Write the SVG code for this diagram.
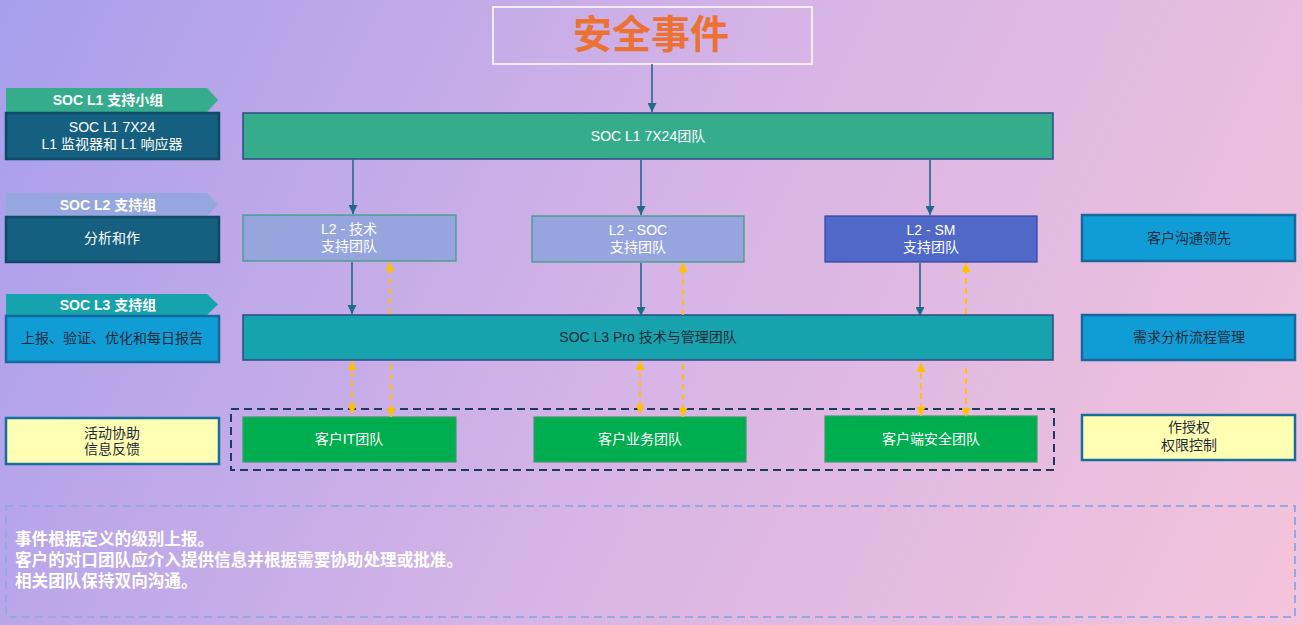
<svg xmlns="http://www.w3.org/2000/svg" width="1303" height="625" viewBox="0 0 1303 625">
  <defs>
    <linearGradient id="bg" gradientUnits="userSpaceOnUse" x1="0" y1="0" x2="1303" y2="625">
      <stop offset="0" stop-color="#a89eec"/>
      <stop offset="0.5" stop-color="#d6b4e6"/>
      <stop offset="1" stop-color="#f4c4da"/>
    </linearGradient>
    <marker id="ah" markerUnits="userSpaceOnUse" markerWidth="9" markerHeight="9" refX="9" refY="4.5" orient="auto-start-reverse">
      <path d="M0,0 L9,4.5 L0,9 z" fill="#1f6a8a"/>
    </marker>
    <marker id="ay" markerUnits="userSpaceOnUse" markerWidth="9" markerHeight="9" refX="9" refY="4.5" orient="auto-start-reverse">
      <path d="M0,0 L9,4.5 L0,9 z" fill="#ffc000"/>
    </marker>
  </defs>
  <style>
    text { font-family: "Liberation Sans", "Noto Sans CJK SC", sans-serif; font-size: 14px; text-anchor: middle; }
    .w { fill: #ffffff; }
    .d { fill: #1e2a3a; }
    .b { font-weight: bold; }
    .title { font-size: 39px; font-weight: bold; fill: #ec7234; }
    .note { font-size: 16.6px; font-weight: 600; fill: #ffffff; text-anchor: start; }
    .conn { stroke: #24688a; stroke-width: 1.6; fill: none; marker-end: url(#ah); }
    .yel { stroke: #ffc000; stroke-width: 1.8; fill: none; stroke-dasharray: 6 4; }
    .dark { fill: #155f80; stroke: #0d4a66; stroke-width: 2.5; }
    .blue { fill: #109dd6; stroke: #15699c; stroke-width: 2.5; }
    .ylw { fill: #ffffb3; stroke: #146f9e; stroke-width: 2.5; }
    .bar { stroke: #2e4a85; stroke-width: 1.5; }
    .l2 { fill: #97a5df; stroke: #3b9a7a; stroke-width: 1.2; }
    .cust { fill: #00ae4f; stroke: #3c9a70; stroke-width: 1.2; }
  </style>
  <rect x="0" y="0" width="1303" height="625" fill="url(#bg)"/>

  <g id="title">
    <rect x="493" y="7" width="319" height="57" fill="none" stroke="#ffffff" stroke-width="1.5"/>
    <text x="651" y="48" class="title">安全事件</text>
  </g>

  <g id="l1-banner">
    <polygon points="6,88 207,88 218,100 207,112 6,112" fill="#35ad8c"/>
    <text x="108" y="105" class="w b">SOC L1 支持小组</text>
  </g>
  <g id="l1-desc">
    <rect x="6" y="113" width="213" height="46" class="dark"/>
    <text x="112" y="132" class="w">SOC L1 7X24</text>
    <text x="112" y="149" class="w">L1 监视器和 L1 响应器</text>
  </g>
  <g id="l2-banner">
    <polygon points="6,193 207,193 218,204.5 207,216 6,216" fill="#96a6df"/>
    <text x="108" y="209.5" class="w b">SOC L2 支持组</text>
  </g>
  <g id="l2-desc">
    <rect x="6" y="217" width="213" height="45" class="dark"/>
    <text x="112" y="243" class="w">分析和作</text>
  </g>
  <g id="l3-banner">
    <polygon points="6,294 207,294 218,304.5 207,315 6,315" fill="#16a3ad"/>
    <text x="108" y="310" class="w b">SOC L3 支持组</text>
  </g>
  <g id="l3-desc">
    <rect x="6" y="316" width="213" height="46" class="blue"/>
    <text x="112" y="343" class="d">上报、验证、优化和每日报告</text>
  </g>
  <g id="assist">
    <rect x="6" y="418" width="213" height="46" class="ylw"/>
    <text x="112" y="438" class="d">活动协助</text>
    <text x="112" y="454" class="d">信息反馈</text>
  </g>

  <g id="l1-team">
    <rect x="243" y="113" width="810" height="46" fill="#35ad8c" class="bar"/>
    <text x="648" y="141" class="w">SOC L1 7X24团队</text>
  </g>
  <g id="l2-tech">
    <rect x="243" y="215" width="213" height="46" class="l2"/>
    <text x="349" y="234" class="w">L2 - 技术</text>
    <text x="349" y="251" class="w">支持团队</text>
  </g>
  <g id="l2-soc">
    <rect x="532" y="216" width="212" height="46" class="l2"/>
    <text x="638" y="235" class="w">L2 - SOC</text>
    <text x="638" y="252" class="w">支持团队</text>
  </g>
  <g id="l2-sm">
    <rect x="825" y="216" width="212" height="46" fill="#5068c8" stroke="#2f43a0" stroke-width="1.2"/>
    <text x="931" y="235" class="w">L2 - SM</text>
    <text x="931" y="252" class="w">支持团队</text>
  </g>
  <g id="l3-team">
    <rect x="243" y="315" width="810" height="45" fill="#16a3ad" class="bar"/>
    <text x="648" y="342" class="d">SOC L3 Pro 技术与管理团队</text>
  </g>

  <g id="customer-group">
    <rect x="231" y="409" width="823" height="61" fill="none" stroke="#1b3c5c" stroke-width="2" stroke-dasharray="8 5"/>
  </g>
  <g id="cust-it">
    <rect x="243" y="417" width="213" height="45" class="cust"/>
    <text x="349" y="444" class="w">客户IT团队</text>
  </g>
  <g id="cust-biz">
    <rect x="534" y="417" width="212" height="45" class="cust"/>
    <text x="640" y="444" class="w">客户业务团队</text>
  </g>
  <g id="cust-sec">
    <rect x="825" y="416" width="212" height="46" class="cust"/>
    <text x="931" y="444" class="w">客户端安全团队</text>
  </g>

  <g id="comm-lead">
    <rect x="1082" y="215" width="213" height="46" class="blue"/>
    <text x="1189" y="243" class="d">客户沟通领先</text>
  </g>
  <g id="req-mgmt">
    <rect x="1082" y="315" width="213" height="45" class="blue"/>
    <text x="1189" y="342" class="d">需求分析流程管理</text>
  </g>
  <g id="auth">
    <rect x="1082" y="415" width="213" height="45" class="ylw"/>
    <text x="1189" y="432" class="d">作授权</text>
    <text x="1189" y="450" class="d">权限控制</text>
  </g>

  <g id="notes">
    <rect x="6" y="506" width="1289" height="111" fill="none" stroke="#98a6e2" stroke-width="2" stroke-dasharray="8 5"/>
    <text x="15" y="545" class="note">事件根据定义的级别上报。</text>
    <text x="15" y="566" class="note">客户的对口团队应介入提供信息并根据需要协助处理或批准。</text>
    <text x="15" y="587" class="note">相关团队保持双向沟通。</text>
  </g>

  <g id="connectors">
    <line x1="652" y1="64" x2="652" y2="112" class="conn"/>
    <line x1="353" y1="159" x2="353" y2="214" class="conn"/>
    <line x1="641" y1="160" x2="641" y2="215" class="conn"/>
    <line x1="930" y1="160" x2="930" y2="215" class="conn"/>
    <line x1="352" y1="262" x2="352" y2="314" class="conn"/>
    <line x1="641" y1="263" x2="641" y2="316" class="conn"/>
    <line x1="920" y1="263" x2="920" y2="316" class="conn"/>

    <line x1="390" y1="314" x2="390" y2="262" class="yel" marker-end="url(#ay)"/>
    <line x1="683" y1="315" x2="683" y2="263" class="yel" marker-end="url(#ay)"/>
    <line x1="966" y1="314" x2="966" y2="263" class="yel" marker-end="url(#ay)"/>

    <line x1="352" y1="361" x2="352" y2="414" class="yel" marker-start="url(#ay)" marker-end="url(#ay)"/>
    <line x1="391" y1="364" x2="391" y2="417" class="yel" marker-end="url(#ay)"/>
    <line x1="640" y1="361" x2="640" y2="414" class="yel" marker-start="url(#ay)" marker-end="url(#ay)"/>
    <line x1="683" y1="364" x2="683" y2="417" class="yel" marker-end="url(#ay)"/>
    <line x1="921" y1="363" x2="921" y2="416" class="yel" marker-start="url(#ay)" marker-end="url(#ay)"/>
    <line x1="966" y1="368" x2="966" y2="417" class="yel" marker-end="url(#ay)"/>
  </g>
</svg>
